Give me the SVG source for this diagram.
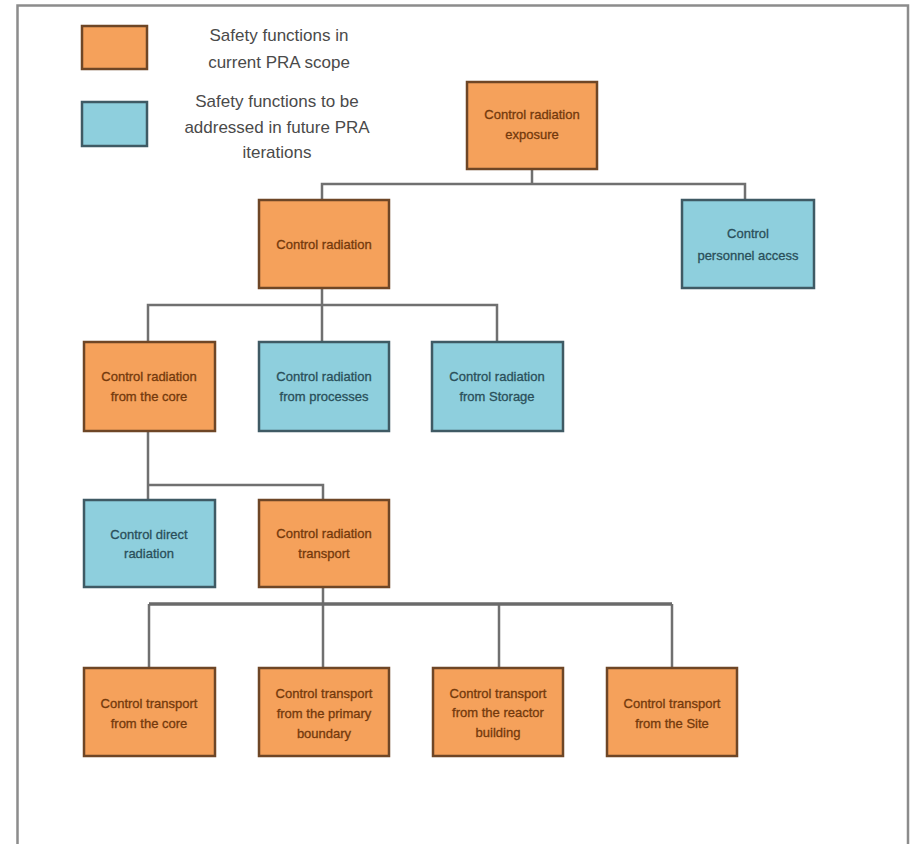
<svg xmlns="http://www.w3.org/2000/svg" width="911" height="844" viewBox="0 0 911 844">
  <style>
    .cur { fill: #F5A15B; stroke: #6E4626; stroke-width: 2.5; }
    .fut { fill: #8ECFDD; stroke: #3F5A64; stroke-width: 2.5; }
    .wire { fill: none; stroke: #707070; stroke-width: 2.5; }
    .bus { fill: none; stroke: #6a6a6a; stroke-width: 3.5; }
    .leg { font-family: "Liberation Sans", Arial, sans-serif; font-size: 17px; fill: #4a4a4a; text-anchor: middle; }
    .lab { font-family: "Liberation Sans", Arial, sans-serif; font-size: 13px; text-anchor: middle; stroke-width: 0.3; }
    .lc { fill: #73390C; stroke: #73390C; }
    .lf { fill: #2A4F5A; stroke: #2A4F5A; }
  </style>

  <!-- outer frame, open at the bottom -->
  <rect x="0" y="0" width="911" height="844" fill="#ffffff"/>
  <path d="M17.5 850 V5.5 H908 V850" fill="none" stroke="#8c8c8c" stroke-width="2.5"/>

  <!-- legend -->
  <g id="legend">
    <rect class="cur" x="82" y="26" width="65" height="43"/>
    <text class="leg" x="279" y="41">Safety functions in</text>
    <text class="leg" x="279" y="68">current PRA scope</text>
    <rect class="fut" x="82" y="102" width="65" height="44"/>
    <text class="leg" x="277" y="107">Safety functions to be</text>
    <text class="leg" x="277" y="133">addressed in future PRA</text>
    <text class="leg" x="277" y="158">iterations</text>
  </g>

  <!-- connectors -->
  <g id="connectors">
    <path class="wire" d="M532 169 V184 H322 V200 M532 184 H745 V200"/>
    <path class="wire" d="M322 288 V305 H148 V342 M322 305 V342 M322 305 H497 V342"/>
    <path class="wire" d="M148 431 V485 H323 V500 M148 485 V500"/>
    <path class="wire" d="M323 587 V604 M149 604 V668 M323 604 V668 M672 604 V668 M499 604 V668"/>
    <path class="bus" d="M149 604 H672"/>
  </g>

  <g id="n-exposure">
    <rect class="cur" x="467" y="82" width="130" height="87"/>
    <text class="lab lc" x="532" y="119">Control radiation</text>
    <text class="lab lc" x="532" y="139">exposure</text>
  </g>

  <g id="n-radiation">
    <rect class="cur" x="259" y="200" width="130" height="88"/>
    <text class="lab lc" x="324" y="249">Control radiation</text>
  </g>

  <g id="n-personnel">
    <rect class="fut" x="682" y="200" width="132" height="88"/>
    <text class="lab lf" x="748" y="238">Control</text>
    <text class="lab lf" x="748" y="260">personnel access</text>
  </g>

  <g id="n-core">
    <rect class="cur" x="84" y="342" width="131" height="89"/>
    <text class="lab lc" x="149" y="381">Control radiation</text>
    <text class="lab lc" x="149" y="401">from the core</text>
  </g>

  <g id="n-processes">
    <rect class="fut" x="259" y="342" width="130" height="89"/>
    <text class="lab lf" x="324" y="381">Control radiation</text>
    <text class="lab lf" x="324" y="401">from processes</text>
  </g>

  <g id="n-storage">
    <rect class="fut" x="432" y="342" width="131" height="89"/>
    <text class="lab lf" x="497" y="381">Control radiation</text>
    <text class="lab lf" x="497" y="401">from Storage</text>
  </g>

  <g id="n-direct">
    <rect class="fut" x="84" y="500" width="131" height="87"/>
    <text class="lab lf" x="149" y="539">Control direct</text>
    <text class="lab lf" x="149" y="558">radiation</text>
  </g>

  <g id="n-transport">
    <rect class="cur" x="259" y="500" width="130" height="87"/>
    <text class="lab lc" x="324" y="538">Control radiation</text>
    <text class="lab lc" x="324" y="558">transport</text>
  </g>

  <g id="n-t-core">
    <rect class="cur" x="84" y="668" width="131" height="88"/>
    <text class="lab lc" x="149" y="708">Control transport</text>
    <text class="lab lc" x="149" y="728">from the core</text>
  </g>

  <g id="n-t-primary">
    <rect class="cur" x="259" y="668" width="130" height="88"/>
    <text class="lab lc" x="324" y="698">Control transport</text>
    <text class="lab lc" x="324" y="718">from the primary</text>
    <text class="lab lc" x="324" y="738">boundary</text>
  </g>

  <g id="n-t-building">
    <rect class="cur" x="433" y="668" width="130" height="88"/>
    <text class="lab lc" x="498" y="698">Control transport</text>
    <text class="lab lc" x="498" y="717">from the reactor</text>
    <text class="lab lc" x="498" y="737">building</text>
  </g>

  <g id="n-t-site">
    <rect class="cur" x="607" y="668" width="130" height="88"/>
    <text class="lab lc" x="672" y="708">Control transport</text>
    <text class="lab lc" x="672" y="728">from the Site</text>
  </g>
</svg>
